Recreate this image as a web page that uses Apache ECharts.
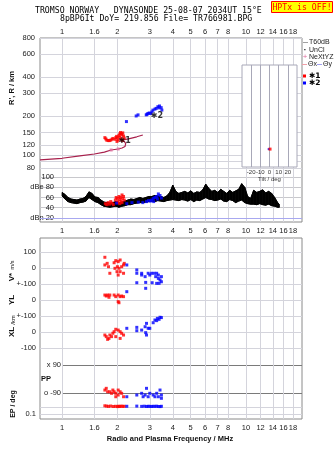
<!DOCTYPE html>
<html><head><meta charset="utf-8">
<script src="https://cdn.jsdelivr.net/npm/echarts@6/dist/echarts.min.js"></script>
<style>html,body{margin:0;padding:0;background:#fff}#c{width:335px;height:451px}</style>
</head><body><div id="c"></div>
<script>
// ---------- axis ticks ----------
const tickFreqs  = [1, 1.5, 2, 3, 4, 5, 6, 7, 8, 10, 12, 14, 16, 18];
const tickLabels = ['1','1.6','2','3','4','5','6','7','8','10','12','14','16','18'];
const rangeTicks = [80, 90, 100, 120, 150, 200, 300, 400, 600, 800];
const dbeTicks   = [20, 40, 60, 80, 100];
const tiltTicks  = [-20, -10, 0, 10, 20];

// ---------- virtual range panel ----------
const profileF = [0.76, 1.0, 1.25, 1.5, 1.7, 1.85, 2.02, 2.12, 2.2, 2.22, 2.18, 2.1, 2.3, 2.55, 2.75];
const profileR = [92.2, 95, 99, 102.5, 106, 110, 112, 114, 117, 123, 128, 131, 134, 139, 143.6];
const profMarkF = [1.85, 2.02];
const profMarkR = [110, 112];
const redRF = [1.71,1.73,1.75,1.78,1.81,1.84,1.87,1.89,1.94,1.96,1.98,2.0,2.02,2.04,2.06,2.08,2.1,2.12,2.14,2.16,2.06,2.1,2.13,1.99,2.18];
const redRR = [137,134,131,130,130,131,133,135,133,137,140,136,131,142,146,150,147,144,149,141,138,134,130,128,136];
const blueRF = [2.24,2.53,2.59,2.87,2.9,2.93,2.98,3.03,3.08,3.12,3.2,3.25,3.32,3.36,3.39,3.46,3.49];
const blueRR = [182,201,205,205,207,210,212,210,216,223,227,230,237,232,240,233,223];
const starF = [2.19, 3.28];
const starR = [129, 201];
const starTxt = ['\u27311', '\u27312'];
const tiltRedX = [0.6], tiltRedR = [112];
const tiltBlueX = [-0.9], tiltBlueR = [112];

// ---------- amplitude (dBe) panel ----------
const dbF  = [1.000,1.038,1.078,1.119,1.162,1.206,1.252,1.300,1.350,1.401,1.455,1.510,1.568,1.628,1.690,1.754,1.821,1.891,1.963,2.038,2.116,2.197,2.281,2.368,2.458,2.552,2.650,2.751,2.856,2.965,3.078,3.196,3.318,3.445,3.576,3.713,3.855,4.002,4.155,4.313,4.478,4.649,4.827,5.011,5.202,5.401,5.607,5.822,6.044,6.275,6.514,6.763,7.021,7.290,7.568,7.857,8.157,8.469,8.792,9.128,9.477,9.839,10.21,10.60,11.01,11.43,11.87,12.32,12.79,13.28,13.79,14.31,14.86,15.20];
const dbHi = [70,66,60,57,56,55,57,58,62,71,68,61,60,55,51,50,49,50,52,50,51,53,55,57,56,58,60,58,60,62,62,64,63,62,60,63,70,84,72,68,70,72,69,73,68,71,70,75,86,78,72,74,70,76,72,68,74,70,73,76,87,80,62,58,74,70,72,75,69,72,68,60,50,46];
const dbLo = [63,57,52,50,49,48,50,51,53,60,56,52,50,46,43,42,41,42,43,41,43,44,46,46,48,49,50,50,51,52,53,52,54,53,52,54,55,56,55,54,56,55,53,56,52,55,54,57,60,57,56,54,55,57,53,52,56,54,50,53,55,50,48,47,47,46,48,46,45,47,44,43,41,41];
const redDbF = [1.72,1.75,1.78,1.81,1.84,1.87,1.9,1.95,1.97,2.0,2.02,2.04,2.06,2.08,2.1,2.12,2.14,2.16,2.18,2.0,2.06,2.12];
const redDbV = [48,46,50,47,52,49,46,55,60,58,52,62,56,60,53,65,58,62,55,50,48,50];
const blueDbF = [1.98,2.25,2.4,2.6,2.75,2.88,2.95,3.02,3.07,3.13,3.2,3.27,3.34,3.41,3.47,3.3,3.15];
const blueDbV = [49,48,50,51,50,52,54,53,55,58,60,62,67,64,59,57,52];

// ---------- lower panel ----------
const redVF = [1.71,1.71,1.76,1.79,1.82,1.92,1.96,2.02,2.07,2.0,2.04,1.99,2.07,2.11,2.16,1.94,2.16,2.02,2.18];
const redVV = [67,19,29,8,-33,33,46,40,50,8,-2,-23,-23,8,19,-2,-33,-44,29];
const blueVF = [2.25,2.55,2.55,2.55,2.71,2.71,2.83,2.85,2.85,2.94,3.0,3.07,3.17,3.23,3.27,3.34,3.34,3.41,3.47,3.47,3.27,3.37,3.09];
const blueVV = [19,-12,-33,-92,-33,-44,-54,-90,-127,-33,-44,-33,-33,-54,-33,-44,-65,-75,-54,-86,-96,-96,-92];
const redYF = [1.71,1.77,1.74,1.82,1.92,1.96,2.02,2.07,2.11,2.16,2.02,1.8,2.04];
const redYV = [31,31,25,31,31,21,31,21,25,21,-10,17,-17];
const blueYF = [2.25];
const blueYV = [52];
const redXF = [1.71,1.74,1.77,1.82,1.86,1.92,1.96,2.02,2.07,2.11,2.16,1.96,2.07,1.89,1.8];
const redXV = [-19,-29,-46,-19,-29,2,17,12,2,-8,-19,-29,-40,-8,-40];
const blueXF = [2.25,2.55,2.55,2.71,2.83,2.85,2.88,2.94,3.0,2.88,3.13,3.2,3.3,3.41,3.47,3.37,3.27];
const blueXV = [23,29,8,12,33,-4,-19,23,23,54,58,75,85,92,90,79,71];
const redPF = [1.71,1.74,1.77,1.82,1.86,1.89,1.92,1.96,2.02,2.07,2.11,2.02,2.16,1.96];
const redPV = [-71,-60,-82,-82,-92,-71,-82,-92,-103,-82,-92,-71,-114,-114];
const bluePF = [2.25,2.55,2.71,2.76,2.88,2.83,2.94,3.0,3.13,3.2,3.27,3.41,3.47,3.47,3.34];
const bluePV = [-114,-103,-92,-114,-60,-103,-114,-92,-103,-114,-92,-71,-103,-124,-114];
const redEF = [1.71,1.75,1.79,1.84,1.9,1.95,2.0,2.03,2.06,2.1,2.14,2.18];
const redEV = [22,18,15,19,14,16,13,17,14,18,15,16];
const blueEF = [2.25,2.55,2.71,2.8,2.88,2.94,3.0,3.07,3.13,3.2,3.27,3.34,3.41,3.47];
const blueEV = [16,18,15,17,14,16,15,14,16,15,17,14,13,16];

// ---------- helpers ----------
const F = 'Liberation Sans';
const MONO = 'DejaVu Sans Mono';
const GRID_C = '#d4d4dc';
const FRAME_C = '#8a8a8a';
const XMIN = 0.7593, XMAX = 20.16;
const LXMIN = Math.log10(XMIN), LXMAX = Math.log10(XMAX);
const logTicks = tickFreqs.map(v => Math.log10(v));
const xFmt = v => { const i = logTicks.findIndex(t => Math.abs(t - v) < 1e-4); return i >= 0 ? tickLabels[i] : ''; };
const pairs = (a, b) => a.map((x, i) => [x, b[i]]);
const lbl = {fontSize: 7.5, lineHeight: 6, color: '#1a1a1a', fontFamily: F, hideOverlap: false, showMinLabel: true, showMaxLabel: true};
const hiddenLog = (g, min, max) => ({type: 'log', gridIndex: g, min: min, max: max, show: false, splitLine: {show: false}, axisLine: {show: false}, axisTick: {show: false}, axisLabel: {show: false}});
const hiddenVal = g => ({type: 'value', gridIndex: g, show: false, splitLine: {show: false}});
const helperX = (g, pos, split, margin) => ({
  type: 'value', gridIndex: g, position: pos, min: LXMIN, max: LXMAX,
  axisLine: {show: false},
  axisTick: {show: false, customValues: logTicks},
  axisLabel: Object.assign({show: true, customValues: logTicks, formatter: xFmt, margin: margin}, lbl, {lineHeight: 9}),
  splitLine: {show: split, lineStyle: {color: GRID_C, width: 1}}
});
const sq = (c, s) => ({symbol: 'rect', symbolSize: s || 3, itemStyle: {color: c}});

const lrMin = Math.log10(74.5), lrMax = Math.log10(800) + 1e-9;
const rangeLog = rangeTicks.map(v => Math.log10(v));

// amplitude band: one filled quad between consecutive low/high readings
const bandItem = (params, api) => {
  const i = params.dataIndex;
  if (i >= dbF.length - 1) return null;
  const p = [
    api.coord([dbF[i], dbLo[i]]), api.coord([dbF[i], dbHi[i]]),
    api.coord([dbF[i + 1], dbHi[i + 1]]), api.coord([dbF[i + 1], dbLo[i + 1]])
  ];
  return {type: 'polygon', shape: {points: p}, style: {fill: '#000', stroke: '#000', lineWidth: 0.8}};
};

const chart = echarts.init(document.getElementById('c'), null, {renderer: 'canvas'});
const option = {
  animation: false,
  backgroundColor: '#fff',
  grid: [
    {left: 40, top: 38, width: 262, height: 184, show: true, borderColor: FRAME_C, borderWidth: 1, backgroundColor: 'transparent', outerBoundsMode: 'none'}, // 0 frame top
    {left: 40, top: 38, width: 262, height: 134, outerBoundsMode: 'none'},   // 1 range
    {left: 242, top: 65, width: 55, height: 102, show: true, z: 1, borderColor: '#a8a8b8', backgroundColor: '#fff', outerBoundsMode: 'none'}, // 2 tilt
    {left: 40, top: 172, width: 262, height: 50, outerBoundsMode: 'none'},  // 3 dBe
    {left: 40, top: 238, width: 262, height: 181, show: true, borderColor: FRAME_C, borderWidth: 1, backgroundColor: 'transparent', outerBoundsMode: 'none'}, // 4 frame lower
    {left: 40, top: 238, width: 262, height: 46, outerBoundsMode: 'none'},  // 5 V*
    {left: 40, top: 284, width: 262, height: 32, outerBoundsMode: 'none'},  // 6 YL
    {left: 40, top: 316, width: 262, height: 32, outerBoundsMode: 'none'},  // 7 XL
    {left: 63, top: 348, width: 239, height: 52, outerBoundsMode: 'none'},  // 8 PP
    {left: 40, top: 400, width: 262, height: 19, outerBoundsMode: 'none'}   // 9 EP
  ],
  xAxis: [
    helperX(0, 'top', true, 2),                 // 0
    helperX(0, 'bottom', false, 4),             // 1
    hiddenLog(1, XMIN, XMAX),                   // 2
    {type: 'value', gridIndex: 2, min: -30, max: 30, z: 2, position: 'bottom',
     axisLine: {show: false}, axisTick: {show: false, customValues: tiltTicks},
     axisLabel: {customValues: tiltTicks, fontSize: 6, color: '#333', fontFamily: F, margin: 2, hideOverlap: false},
     splitLine: {show: true, lineStyle: {color: '#a8a8b8'}},
     name: 'Tilt / deg', nameLocation: 'middle', nameGap: 9, nameTextStyle: {fontSize: 6, color: '#333', fontFamily: F}}, // 3
    hiddenLog(3, XMIN, XMAX),                   // 4
    helperX(4, 'bottom', true, 4),              // 5
    hiddenLog(5, XMIN, XMAX),                   // 6
    hiddenLog(6, XMIN, XMAX),                   // 7
    hiddenLog(7, XMIN, XMAX),                   // 8
    hiddenLog(8, 1.0126, XMAX),                 // 9
    hiddenLog(9, XMIN, XMAX)                    // 10
  ],
  yAxis: [
    hiddenVal(0),                               // 0
    hiddenLog(1, 74.5, 800),                    // 1
    {type: 'value', gridIndex: 1, position: 'left', min: lrMin, max: lrMax,
     axisLine: {show: false}, axisTick: {show: false, customValues: rangeLog},
     axisLabel: Object.assign({customValues: rangeLog, margin: 5, formatter: v => String(Math.round(Math.pow(10, v)))}, lbl),
     splitLine: {show: true, lineStyle: {color: GRID_C}}}, // 2
    hiddenLog(2, 81.6, 496),                    // 3
    {type: 'value', gridIndex: 3, position: 'left', min: 12, max: 110,
     axisLine: {show: false}, axisTick: {show: false, customValues: [40, 60, 80, 100]},
     axisLabel: Object.assign({customValues: dbeTicks, margin: -14, formatter: v => v === 20 ? 'dBn 20' : (v === 80 ? 'dBe 80' : String(v))}, lbl),
     splitLine: {show: true, lineStyle: {color: '#c8c8cc'}}}, // 4
    hiddenVal(4),                               // 5
    {type: 'value', gridIndex: 5, position: 'left', min: -100, max: 187.5,
     axisLine: {show: false}, axisTick: {show: false, customValues: [-100, 0, 100]},
     axisLabel: Object.assign({customValues: [-100, 0, 100], margin: 4, formatter: v => v === -100 ? '+-100' : String(v)}, lbl),
     splitLine: {show: true, lineStyle: {color: GRID_C}}}, // 6
    {type: 'value', gridIndex: 6, position: 'left', min: -100, max: 100,
     axisLine: {show: false}, axisTick: {show: false, customValues: [-100, 0, 100]},
     axisLabel: Object.assign({customValues: [-100, 0], margin: 4, formatter: v => v === -100 ? '+-100' : String(v)}, lbl),
     splitLine: {show: true, lineStyle: {color: GRID_C}}}, // 7
    {type: 'value', gridIndex: 7, position: 'left', min: -100, max: 100,
     axisLine: {show: false}, axisTick: {show: false, customValues: [-100, 0]},
     axisLabel: Object.assign({customValues: [-100, 0], margin: 4}, lbl),
     splitLine: {show: true, lineStyle: {color: GRID_C}}}, // 8
    {type: 'value', gridIndex: 8, position: 'left', min: -135, max: 199.3,
     axisLine: {show: false}, axisTick: {show: false, customValues: [-90, 90]},
     axisLabel: Object.assign({customValues: [-90, 90], margin: 2, formatter: v => v > 0 ? 'x 90' : 'o -90'}, lbl),
     splitLine: {show: true, lineStyle: {color: '#7a7a7a'}}}, // 9
    hiddenLog(9, 0.003727, 1000),               // 10
    {type: 'value', gridIndex: 9, position: 'left', min: -2.4286, max: 3,
     axisLine: {show: false}, axisTick: {show: false, customValues: [-1, 1]},
     axisLabel: Object.assign({customValues: [-1, 1], margin: 4, formatter: v => v > 0 ? '10.' : '0.1'}, lbl),
     splitLine: {show: true, lineStyle: {color: GRID_C}}} // 11
  ],
  series: [
    {type: 'line', xAxisIndex: 2, yAxisIndex: 1, data: pairs(profileF, profileR), showSymbol: false, symbol: 'none',
     lineStyle: {color: '#a8204c', width: 1.2}, z: 3},
    Object.assign({type: 'scatter', xAxisIndex: 2, yAxisIndex: 1, data: pairs(profMarkF, profMarkR), z: 4}, sq('#e070a0', 3)),
    Object.assign({type: 'scatter', xAxisIndex: 2, yAxisIndex: 1, data: pairs(redRF, redRR), z: 4}, sq('#ff0000', 3)),
    Object.assign({type: 'scatter', xAxisIndex: 2, yAxisIndex: 1, data: pairs(blueRF, blueRR), z: 4}, sq('#0000ff', 3)),
    {type: 'scatter', xAxisIndex: 2, yAxisIndex: 1, symbolSize: 0, z: 5,
     data: starF.map((f, i) => ({value: [f, starR[i]], label: {formatter: starTxt[i]}})),
     label: {show: true, position: 'inside', fontSize: 8, fontWeight: 'bold', color: '#000', fontFamily: 'DejaVu Sans'}},
    Object.assign({type: 'scatter', xAxisIndex: 3, yAxisIndex: 3, data: pairs(tiltBlueX, tiltBlueR), z: 6}, sq('#0000ff', 2)),
    Object.assign({type: 'scatter', xAxisIndex: 3, yAxisIndex: 3, data: pairs(tiltRedX, tiltRedR), z: 6}, sq('#ff0000', 3)),
    {type: 'custom', coordinateSystem: 'cartesian2d', xAxisIndex: 4, yAxisIndex: 4, z: 3, clip: false,
     data: dbF.map((f, i) => [f, dbLo[i], dbHi[i]]),
     encode: {x: 0, y: [1, 2]},
     renderItem: bandItem},
    {type: 'line', xAxisIndex: 4, yAxisIndex: 4, data: pairs(dbF, dbHi), symbol: 'none', lineStyle: {color: '#000', width: 1}, z: 3,
     markLine: {silent: true, symbol: 'none', label: {show: false}, lineStyle: {color: '#a8a8f0', type: 'solid', width: 1}, data: [{yAxis: 20}]}},
    {type: 'line', xAxisIndex: 4, yAxisIndex: 4, data: pairs(dbF, dbLo), symbol: 'none', lineStyle: {color: '#000', width: 1}, z: 3},
    Object.assign({type: 'scatter', xAxisIndex: 4, yAxisIndex: 4, data: pairs(redDbF, redDbV), z: 4}, sq('#ff0000', 3)),
    Object.assign({type: 'scatter', xAxisIndex: 4, yAxisIndex: 4, data: pairs(blueDbF, blueDbV), z: 4}, sq('#0000ff', 3)),
    Object.assign({type: 'scatter', xAxisIndex: 6, yAxisIndex: 6, clip: false, data: pairs(redVF, redVV)}, sq('#ff0000', 3)),
    Object.assign({type: 'scatter', xAxisIndex: 6, yAxisIndex: 6, clip: false, data: pairs(blueVF, blueVV)}, sq('#0000ff', 3)),
    Object.assign({type: 'scatter', xAxisIndex: 7, yAxisIndex: 7, clip: false, data: pairs(redYF, redYV)}, sq('#ff0000', 3)),
    Object.assign({type: 'scatter', xAxisIndex: 7, yAxisIndex: 7, clip: false, data: pairs(blueYF, blueYV)}, sq('#0000ff', 3)),
    Object.assign({type: 'scatter', xAxisIndex: 8, yAxisIndex: 8, clip: false, data: pairs(redXF, redXV)}, sq('#ff0000', 3)),
    Object.assign({type: 'scatter', xAxisIndex: 8, yAxisIndex: 8, clip: false, data: pairs(blueXF, blueXV)}, sq('#0000ff', 3)),
    Object.assign({type: 'scatter', xAxisIndex: 9, yAxisIndex: 9, clip: false, data: pairs(redPF, redPV)}, sq('#ff0000', 3)),
    Object.assign({type: 'scatter', xAxisIndex: 9, yAxisIndex: 9, clip: false, data: pairs(bluePF, bluePV)}, sq('#0000ff', 3)),
    Object.assign({type: 'scatter', xAxisIndex: 10, yAxisIndex: 10, clip: false, data: pairs(redEF, redEV)}, sq('#ff0000', 3)),
    Object.assign({type: 'scatter', xAxisIndex: 10, yAxisIndex: 10, clip: false, data: pairs(blueEF, blueEV)}, sq('#0000ff', 3))
  ],
  graphic: [
    {type: 'text', left: 35, top: 7, style: {text: 'TROMSO NORWAY   DYNASONDE 25-08-07 2034UT 15\u00B0E', font: '8.2px ' + MONO, fill: '#000'}},
    {type: 'text', left: 60, top: 15, style: {text: '8pBP6It DoY= 219.856 File= TR766981.BPG', font: '8.2px ' + MONO, fill: '#000'}},
    {type: 'rect', shape: {x: 271.5, y: 1.5, width: 61, height: 11}, style: {fill: '#ffff00', stroke: '#ff0000', lineWidth: 1}},
    {type: 'text', x: 302, y: 7.5, style: {text: 'HPTx is OFF!', font: '8.2px ' + MONO, fill: '#ff0000', textAlign: 'center', textVerticalAlign: 'middle'}},
    // legend
    {type: 'line', shape: {x1: 303, y1: 42.5, x2: 308, y2: 42.5}, style: {stroke: '#a0a0a0', lineWidth: 1}},
    {type: 'text', x: 309, y: 42.5, style: {text: 'T60dB', font: '7px ' + F, fill: '#222', textVerticalAlign: 'middle'}},
    {type: 'text', x: 305, y: 49.5, style: {text: '\u00B7', font: 'bold 8px ' + F, fill: '#000', textAlign: 'center', textVerticalAlign: 'middle'}},
    {type: 'text', x: 309, y: 50, style: {text: 'UnCl', font: '7px ' + F, fill: '#222', textVerticalAlign: 'middle'}},
    {type: 'text', x: 305, y: 57, style: {text: '+', font: '8px ' + F, fill: '#e070a0', textAlign: 'center', textVerticalAlign: 'middle'}},
    {type: 'text', x: 309, y: 57.5, style: {text: 'NeXtYZ', font: '7px ' + F, fill: '#222', textVerticalAlign: 'middle'}},
    {type: 'line', shape: {x1: 302, y1: 64.5, x2: 307, y2: 64.5}, style: {stroke: '#f0a0a8', lineWidth: 1}},
    {type: 'text', x: 308, y: 64.5, style: {text: '\u0398x', font: '7px ' + F, fill: '#222', textVerticalAlign: 'middle'}},
    {type: 'line', shape: {x1: 317, y1: 64.5, x2: 322, y2: 64.5}, style: {stroke: '#a0a0f0', lineWidth: 1}},
    {type: 'text', x: 323, y: 64.5, style: {text: '\u0398y', font: '7px ' + F, fill: '#222', textVerticalAlign: 'middle'}},
    {type: 'rect', shape: {x: 303, y: 74.5, width: 3, height: 3}, style: {fill: '#ff0000'}},
    {type: 'text', x: 309, y: 76, style: {text: '\u27311', font: 'bold 7.5px DejaVu Sans', fill: '#000', textVerticalAlign: 'middle'}},
    {type: 'rect', shape: {x: 303, y: 81.5, width: 3, height: 3}, style: {fill: '#0000ff'}},
    {type: 'text', x: 309, y: 83, style: {text: '\u27312', font: 'bold 7.5px DejaVu Sans', fill: '#000', textVerticalAlign: 'middle'}},
    // rotated axis titles
    {type: 'text', x: 12, y: 88, rotation: Math.PI / 2, style: {text: "R', R / km", font: 'bold 7.5px ' + F, fill: '#111', textAlign: 'center', textVerticalAlign: 'middle'}},
    {type: 'text', x: 12, y: 277, rotation: Math.PI / 2, style: {text: 'V*', font: 'bold 8px ' + F, fill: '#111', textAlign: 'center', textVerticalAlign: 'middle'}},
    {type: 'text', x: 12, y: 265, rotation: Math.PI / 2, style: {text: 'm/s', font: '5.5px ' + F, fill: '#111', textAlign: 'center', textVerticalAlign: 'middle'}},
    {type: 'text', x: 12, y: 300, rotation: Math.PI / 2, style: {text: 'YL', font: 'bold 8px ' + F, fill: '#111', textAlign: 'center', textVerticalAlign: 'middle'}},
    {type: 'text', x: 13, y: 320, rotation: Math.PI / 2, style: {text: '/km', font: '6px ' + F, fill: '#111', textAlign: 'center', textVerticalAlign: 'middle'}},
    {type: 'text', x: 12, y: 332, rotation: Math.PI / 2, style: {text: 'XL', font: 'bold 8px ' + F, fill: '#111', textAlign: 'center', textVerticalAlign: 'middle'}},
    {type: 'text', x: 46, y: 379, style: {text: 'PP', font: 'bold 7.5px ' + F, fill: '#111', textAlign: 'center', textVerticalAlign: 'middle'}},
    {type: 'text', x: 13, y: 404, rotation: Math.PI / 2, style: {text: 'EP / deg', font: 'bold 7px ' + F, fill: '#111', textAlign: 'center', textVerticalAlign: 'middle'}},
    {type: 'text', x: 170, y: 439, style: {text: 'Radio and Plasma Frequency / MHz', font: 'bold 7.5px ' + F, fill: '#111', textAlign: 'center', textVerticalAlign: 'middle'}}
  ]
};
chart.setOption(option);
</script></body></html>
